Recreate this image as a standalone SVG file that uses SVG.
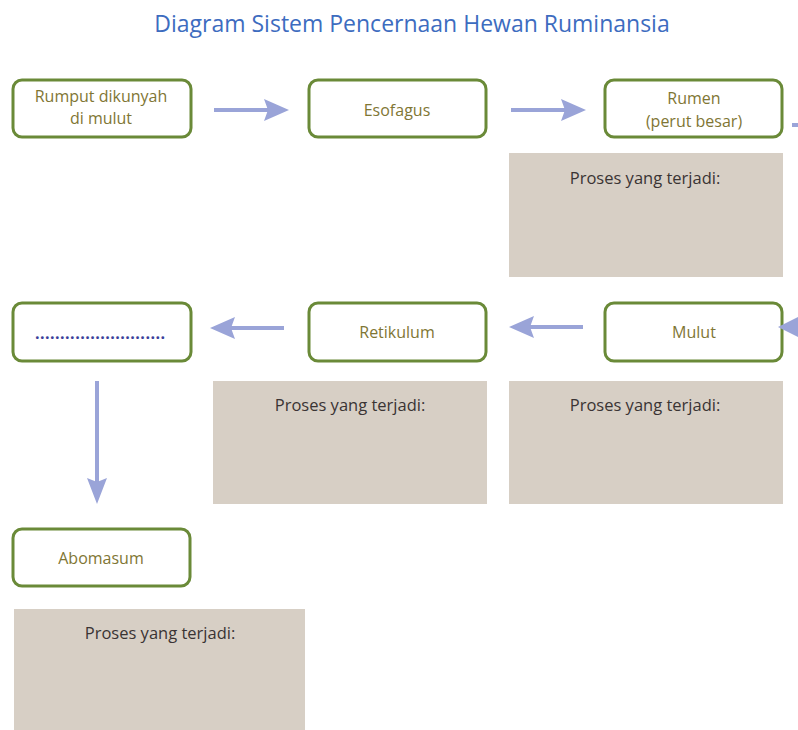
<svg xmlns="http://www.w3.org/2000/svg" width="798" height="730" viewBox="0 0 798 730">
<style>
.node rect{fill:#ffffff;stroke:#6a8a38;stroke-width:3}
.lbl{font-family:"Open Sans","Liberation Sans",sans-serif;font-size:16px;fill:#7f7634;text-anchor:middle}
.panel{fill:#d7cfc5}
.ptxt{font-family:"Open Sans","Liberation Sans",sans-serif;font-size:16.5px;fill:#3a3434;text-anchor:middle}
.title{font-family:"Open Sans","Liberation Sans",sans-serif;font-size:23px;fill:#3d6cbf;text-anchor:middle}
.conn line{stroke:#9aa4d8;stroke-width:4}
.conn polygon{fill:#9aa4d8}
</style>
<rect width="798" height="730" fill="#ffffff"/>
<text class="title" x="412" y="32">Diagram Sistem Pencernaan Hewan Ruminansia</text>

<g id="node-rumput" class="node"><rect x="13" y="80" width="178" height="57" rx="9"/><text class="lbl" x="101" y="102">Rumput dikunyah</text><text class="lbl" x="101" y="124">di mulut</text></g>
<g id="node-esofagus" class="node"><rect x="309" y="80" width="177" height="57" rx="9"/><text class="lbl" x="397" y="116">Esofagus</text></g>
<g id="node-rumen" class="node"><rect x="605" y="80" width="177" height="57" rx="9"/><text class="lbl" x="694" y="104">Rumen</text><text class="lbl" x="694" y="127">(perut besar)</text></g>
<g id="panel-rumen"><rect class="panel" x="509" y="153" width="274" height="124"/><text class="ptxt" x="645" y="184">Proses yang terjadi:</text></g>

<g id="node-blank" class="node"><rect x="13" y="303" width="178" height="58" rx="9"/><text x="100" y="339" font-family="'Open Sans','Liberation Sans',sans-serif" font-size="16" font-weight="bold" fill="#3b3f9a" text-anchor="middle" textLength="130" lengthAdjust="spacing">..........................</text></g>
<g id="node-retikulum" class="node"><rect x="309" y="303" width="177" height="58" rx="9"/><text class="lbl" x="397" y="338">Retikulum</text></g>
<g id="node-mulut" class="node"><rect x="605" y="303" width="177" height="58" rx="9"/><text class="lbl" x="694" y="338">Mulut</text></g>
<g id="panel-retikulum"><rect class="panel" x="213" y="381" width="274" height="123"/><text class="ptxt" x="350" y="411">Proses yang terjadi:</text></g>
<g id="panel-mulut"><rect class="panel" x="509" y="381" width="274" height="123"/><text class="ptxt" x="645" y="411">Proses yang terjadi:</text></g>

<g id="node-abomasum" class="node"><rect x="13" y="529" width="177" height="57" rx="9"/><text class="lbl" x="101" y="564">Abomasum</text></g>
<g id="panel-abomasum"><rect class="panel" x="14" y="609" width="291" height="121"/><text class="ptxt" x="160" y="639">Proses yang terjadi:</text></g>

<g id="connectors" class="conn">
<line x1="214" y1="110" x2="268" y2="110"/><polygon points="289,110 264,99 268,110 264,121"/>
<line x1="511" y1="110" x2="565" y2="110"/><polygon points="586,110 561,99 565,110 561,121"/>
<line x1="792" y1="125" x2="798" y2="125"/>
<polygon points="778,327 800,316 800,338"/>
<line x1="583" y1="327" x2="530" y2="327"/><polygon points="509,327 534,316 530,327 534,338"/>
<line x1="284" y1="328" x2="231" y2="328"/><polygon points="210,328 235,317 231,328 235,339"/>
<line x1="97" y1="381" x2="97" y2="482"/><polygon points="97,504 87,478 97,482 107,478"/>
</g>
</svg>
